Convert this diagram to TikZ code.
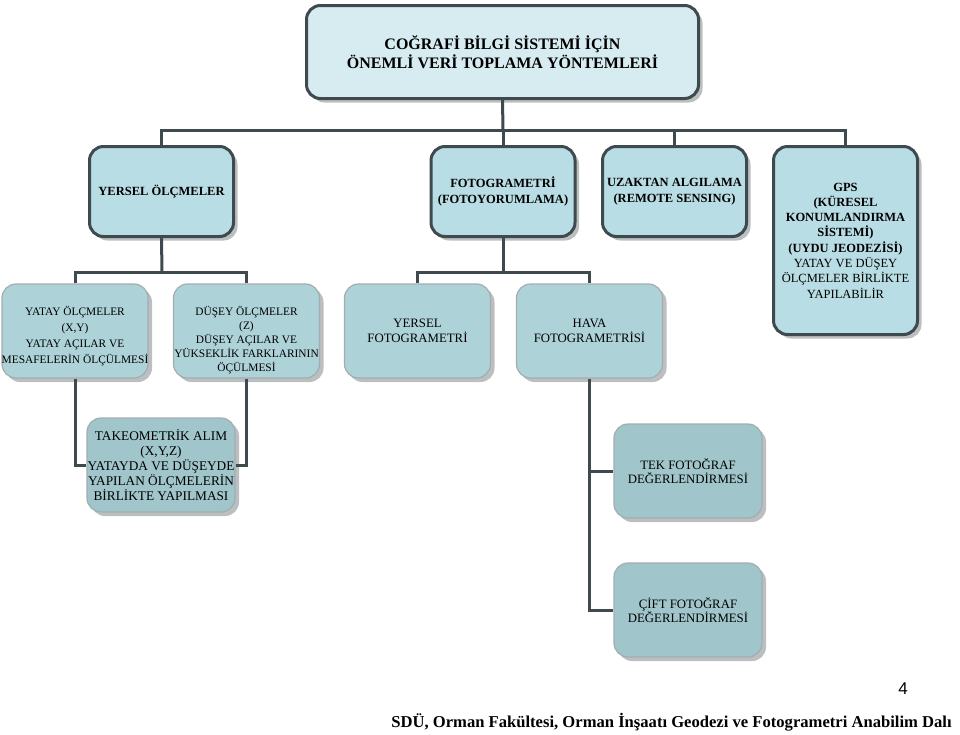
\documentclass[tikz,border=0pt]{standalone}
\usepackage{fontspec}
\setmainfont{Liberation Serif}
\newfontfamily\arialf{Liberation Sans}
\usetikzlibrary{shadows}
\definecolor{dark}{HTML}{3F4A4F}
\definecolor{titlefill}{HTML}{D6ECF1}
\definecolor{lvtwo}{HTML}{B9DDE4}
\definecolor{lvthree}{HTML}{ADD2D8}
\definecolor{lvfour}{HTML}{A0C5CA}
\definecolor{thinb}{HTML}{A3ADB0}
\definecolor{shad}{HTML}{BCBFC0}
\tikzset{
  boxbase/.style={rectangle, rounded corners=14pt, align=center, inner sep=0pt,
    drop shadow={shadow xshift=4pt, shadow yshift=-4pt, fill=shad, opacity=1}},
  titlebox/.style={boxbase, draw=dark, line width=3pt, fill=titlefill,
    minimum width=392pt, minimum height=93pt, font=\fontsize{16}{19}\selectfont\bfseries},
  twobox/.style={boxbase, draw=dark, line width=3pt, fill=lvtwo,
    minimum width=144pt, minimum height=90pt, font=\fontsize{12.5}{16}\selectfont\bfseries},
  threebox/.style={boxbase, draw=thinb, line width=1.2pt, fill=lvthree,
    minimum width=146pt, minimum height=94pt, font=\fontsize{12.8}{15}\selectfont},
  fourbox/.style={boxbase, draw=thinb, line width=1.2pt, fill=lvfour,
    minimum width=148pt, minimum height=94pt, font=\fontsize{12.8}{14.5}\selectfont},
  plaintext/.style={align=center, inner sep=0pt},
  conn/.style={draw=dark, line width=3pt}
}
\begin{document}
\begin{tikzpicture}[x=1pt,y=-1pt]
\useasboundingbox (0,0) rectangle (960,734);
\coordinate (b1) at (503,130);
\coordinate (b2) at (162,272);
\coordinate (b3) at (503,272);
\node[titlebox] (title) at (502.5,52) {COĞRAFİ BİLGİ SİSTEMİ İÇİN\\ÖNEMLİ VERİ TOPLAMA YÖNTEMLERİ};
\node[twobox] (yersel) at (161.5,191.5) {YERSEL ÖLÇMELER};
\node[twobox] (foto) at (503,191.5) {FOTOGRAMETRİ\\(FOTOYORUMLAMA)};
\node[twobox] (uzak) at (674.5,191.5) {UZAKTAN ALGILAMA\\(REMOTE SENSING)};
\node[twobox, minimum height=188pt, font=\fontsize{12.5}{15.3}\selectfont\bfseries] (gps) at (845.5,240.5) {GPS\\(KÜRESEL\\KONUMLANDIRMA\\SİSTEMİ)\\(UYDU JEODEZİSİ)\\\mdseries YATAY VE DÜŞEY\\\mdseries ÖLÇMELER BİRLİKTE\\\mdseries YAPILABİLİR};
\node[threebox] (yatay) at (75,331) {};
\node[plaintext, font=\fontsize{11.4}{16}\selectfont] (yatayt) at (75,336) {YATAY ÖLÇMELER\\(X,Y)\\YATAY AÇILAR VE\\MESAFELERİN ÖLÇÜLMESİ};
\node[threebox] (dusey) at (246.5,331) {};
\node[plaintext, font=\fontsize{11.4}{14.2}\selectfont] (duseyt) at (246.5,340) {DÜŞEY ÖLÇMELER\\(Z)\\DÜŞEY AÇILAR VE\\YÜKSEKLİK FARKLARININ\\ÖÇÜLMESİ};
\node[threebox] (yfoto) at (417.5,331) {YERSEL\\FOTOGRAMETRİ};
\node[threebox] (hava) at (589.5,331) {HAVA\\FOTOGRAMETRİSİ};
\node[fourbox, font=\fontsize{13.3}{15}\selectfont] (take) at (161,465) {TAKEOMETRİK ALIM\\(X,Y,Z)\\YATAYDA VE DÜŞEYDE\\YAPILAN ÖLÇMELERİN\\BİRLİKTE YAPILMASI};
\node[fourbox] (tek) at (688,471) {TEK FOTOĞRAF\\DEĞERLENDİRMESİ};
\node[fourbox] (cift) at (688,610) {ÇİFT FOTOĞRAF\\DEĞERLENDİRMESİ};
% connectors
\draw[conn] (title.south) -- (b1);
\draw[conn] (yersel.north) |- (b1) -| (gps.north);
\draw[conn] (foto.north) -- (foto.north |- b1);
\draw[conn] (uzak.north) -- (uzak.north |- b1);
\draw[conn] (yersel.south) -- (b2);
\draw[conn] (yatay.north) |- (b2) -| (dusey.north);
\draw[conn] (foto.south) -- (b3);
\draw[conn] (yfoto.north) |- (b3) -| (hava.north);
\draw[conn] (yatay.south) |- (take.west);
\draw[conn] (dusey.south) |- (take.east);
\draw[conn] (hava.south) |- (tek.west);
\draw[conn] (hava.south) |- (cift.west);
% footer
\node[font=\arialf\fontsize{17}{20}\selectfont] (pnum) at (903,689) {4};
\node[font=\fontsize{16.6}{19}\selectfont\bfseries] (footer) at (671.5,722) {SDÜ, Orman Fakültesi, Orman İnşaatı Geodezi ve Fotogrametri Anabilim Dalı};
\end{tikzpicture}
\end{document}
